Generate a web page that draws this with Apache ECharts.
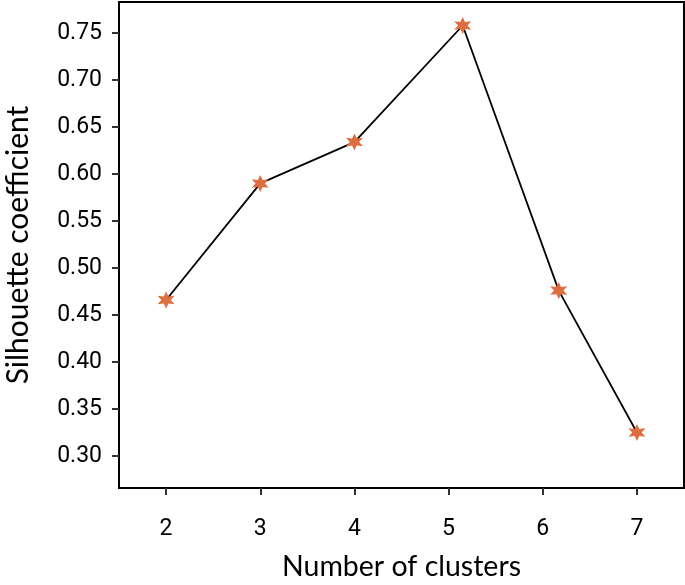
<!DOCTYPE html>
<html>
<head>
<meta charset="utf-8">
<script src="https://cdn.jsdelivr.net/npm/echarts@6/dist/echarts.min.js"></script>
<style>
html,body{margin:0;padding:0;background:#fff;}
#chart{width:685px;height:585px;}
</style>
</head>
<body>
<div id="chart"></div>
<script>
// Data
const clusterPositions = [2, 3, 4, 5.15, 6.17, 7];
const silhouetteValues = [0.466, 0.590, 0.634, 0.758, 0.476, 0.325];
const xTickValues = [2, 3, 4, 5, 6, 7];
const yTickValues = [0.30, 0.35, 0.40, 0.45, 0.50, 0.55, 0.60, 0.65, 0.70, 0.75];
const xTitle = 'Number of clusters';
const yTitle = 'Silhouette coefficient';

const starPath = 'path://M10 0 L12.4 5.84 L18.66 5 L14.8 10 L18.66 15 L12.4 14.16 L10 20 L7.6 14.16 L1.34 15 L5.2 10 L1.34 5 L7.6 5.84 Z';

const chart = echarts.init(document.getElementById('chart'), null, {renderer: 'canvas'});
chart.setOption({
  animation: false,
  backgroundColor: '#ffffff',
  grid: {
    left: 119, right: 1, top: 2, bottom: 97,
    containLabel: false,
    outerBoundsMode: 'none',
    show: true, borderColor: '#000', borderWidth: 2, backgroundColor: 'transparent'
  },
  xAxis: {
    type: 'value',
    min: 1.5, max: 7.5,
    name: xTitle,
    nameLocation: 'middle',
    nameGap: 64,
    nameTextStyle: {fontFamily: 'Lato', fontSize: 28.5, color: '#000'},
    axisLine: {show: true, onZero: false, lineStyle: {color: '#000', width: 2}},
    axisTick: {show: true, length: 7, customValues: xTickValues, lineStyle: {color: '#333', width: 2}},
    axisLabel: {customValues: xTickValues, margin: 30, fontFamily: 'Roboto', fontSize: 23, color: '#000',
      formatter: v => String(v)},
    splitLine: {show: false}
  },
  yAxis: {
    type: 'value',
    min: 0.266, max: 0.783,
    name: yTitle,
    nameLocation: 'middle',
    nameGap: 86,
    nameRotate: 90,
    nameTextStyle: {fontFamily: 'Lato', fontSize: 30, color: '#000'},
    axisLine: {show: true, onZero: false, lineStyle: {color: '#000', width: 2}},
    axisTick: {show: true, length: 7, customValues: yTickValues, lineStyle: {color: '#333', width: 2}},
    axisLabel: {customValues: yTickValues, margin: 17, fontFamily: 'Roboto', fontSize: 23, color: '#000',
      formatter: v => v.toFixed(2)},
    splitLine: {show: false}
  },
  series: [{
    type: 'line',
    data: clusterPositions.map((x, i) => [x, silhouetteValues[i]]),
    lineStyle: {color: '#000', width: 1.8},
    symbol: starPath,
    symbolSize: 17,
    itemStyle: {color: '#DD6E40', borderWidth: 0},
    z: 3
  }]
});
</script>
</body>
</html>
